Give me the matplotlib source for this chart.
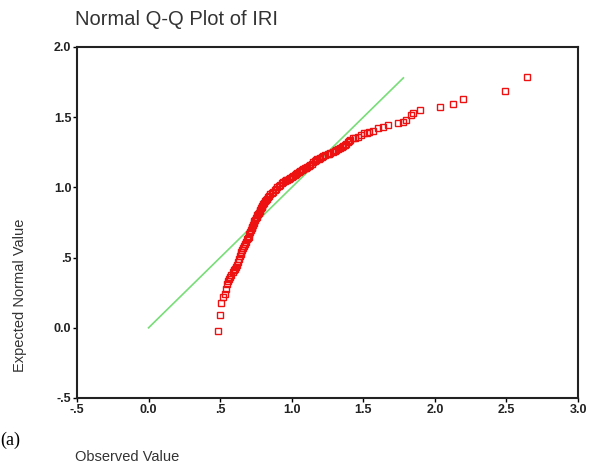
import numpy as np
import matplotlib
matplotlib.use("Agg")
import matplotlib.pyplot as plt
from matplotlib.ticker import FixedLocator, FixedFormatter

plt.rcParams["font.family"] = ["Liberation Sans", "DejaVu Sans"]

# observed IRI quantiles vs expected normal values
observed = [0.487, 0.498, 0.508, 0.519, 0.531, 0.538, 0.545, 0.553, 0.561, 0.570,
            0.578, 0.589, 0.596, 0.603, 0.612, 0.620, 0.627, 0.631, 0.637, 0.643,
            0.649, 0.655, 0.660, 0.666, 0.675, 0.683,
            0.69, 0.695, 0.70, 0.705, 0.71, 0.715, 0.72, 0.725, 0.73, 0.735,
            0.74, 0.745, 0.75, 0.755, 0.76, 0.765, 0.77, 0.775, 0.78, 0.785,
            0.79, 0.795, 0.80, 0.805, 0.81, 0.82, 0.83, 0.835, 0.84, 0.85,
            0.86, 0.87, 0.88, 0.89, 0.90, 0.91, 0.92, 0.93, 0.94, 0.95,
            0.96, 0.97, 0.98, 0.99, 1.00, 1.01, 1.02, 1.03, 1.04, 1.05,
            1.06, 1.07, 1.08, 1.09, 1.10, 1.11, 1.12, 1.13, 1.14, 1.15,
            1.16, 1.17, 1.18, 1.19, 1.20, 1.21, 1.22, 1.235, 1.25, 1.26,
            1.27, 1.285, 1.30, 1.31, 1.32, 1.335, 1.35, 1.36, 1.37, 1.38,
            1.39, 1.40, 1.41, 1.426, 1.445, 1.461, 1.485, 1.508, 1.525, 1.543,
            1.567, 1.602, 1.637, 1.672, 1.742, 1.777, 1.800, 1.835, 1.847, 1.893,
            2.034, 2.127, 2.197, 2.490, 2.642]
expected = [-0.024, 0.088, 0.176, 0.219, 0.243, 0.279, 0.315, 0.333, 0.350, 0.362,
            0.374, 0.397, 0.409, 0.421, 0.433, 0.445, 0.469, 0.493, 0.510, 0.528,
            0.543, 0.557, 0.568, 0.580, 0.596, 0.611,
            0.63, 0.64, 0.65, 0.665, 0.68, 0.695, 0.71, 0.72, 0.73, 0.745,
            0.76, 0.77, 0.78, 0.79, 0.80, 0.81, 0.82, 0.83, 0.84, 0.85,
            0.86, 0.87, 0.88, 0.89, 0.90, 0.91, 0.92, 0.93, 0.94, 0.95,
            0.96, 0.97, 0.98, 0.99, 1.00, 1.01, 1.02, 1.028, 1.035, 1.043,
            1.05, 1.055, 1.06, 1.068, 1.075, 1.083, 1.09, 1.095, 1.10, 1.108,
            1.115, 1.123, 1.13, 1.135, 1.14, 1.148, 1.155, 1.163, 1.17, 1.178,
            1.185, 1.193, 1.20, 1.205, 1.21, 1.215, 1.22, 1.228, 1.235, 1.24,
            1.245, 1.253, 1.26, 1.265, 1.27, 1.28, 1.29, 1.295, 1.30, 1.31,
            1.32, 1.328, 1.335, 1.349, 1.355, 1.360, 1.372, 1.384, 1.390, 1.396,
            1.403, 1.420, 1.432, 1.444, 1.456, 1.467, 1.479, 1.515, 1.527, 1.551,
            1.574, 1.594, 1.629, 1.686, 1.784]
ref_line = [0.0, 1.78]

xticks = [-0.5, 0.0, 0.5, 1.0, 1.5, 2.0, 2.5, 3.0]
xlabels = ["-.5", "0.0", ".5", "1.0", "1.5", "2.0", "2.5", "3.0"]
yticks = [-0.5, 0.0, 0.5, 1.0, 1.5, 2.0]
ylabels = ["-.5", "0.0", ".5", "1.0", "1.5", "2.0"]

fig = plt.figure(figsize=(5.99, 4.68), dpi=100)
ax = fig.add_axes([0.1285, 0.1496, 0.8365, 0.75])

ax.plot(ref_line, ref_line, color="#77dd77", lw=1.2, zorder=1)
ax.plot(observed, expected, ls="none", marker="s", ms=4.2, mfc="none",
        mec="#ee1111", mew=1.0, zorder=2)

ax.set_xlim(-0.5, 3.0)
ax.set_ylim(-0.5, 2.0)
ax.xaxis.set_major_locator(FixedLocator(xticks))
ax.xaxis.set_major_formatter(FixedFormatter(xlabels))
ax.yaxis.set_major_locator(FixedLocator(yticks))
ax.yaxis.set_major_formatter(FixedFormatter(ylabels))
ax.tick_params(direction="out", length=3, width=1, labelsize=9, pad=1)
for lab in ax.get_xticklabels() + ax.get_yticklabels():
    lab.set_fontweight("bold")
    lab.set_color("#222222")
for s in ax.spines.values():
    s.set_linewidth(1.5)
    s.set_color("#222222")

fig.text(0.125, 0.958, "Normal Q-Q Plot of IRI", fontsize=14.5, color="#333333",
         ha="left", va="center")
fig.text(0.034, 0.37, "Expected Normal Value", rotation=90, fontsize=10.5,
         color="#333333", ha="center", va="center")
fig.text(0.125, 0.023, "Observed Value", fontsize=10.5, color="#333333",
         ha="left", va="center")
fig.text(0.0, 0.06, "(a)", fontsize=13, family="Liberation Serif",
         ha="left", va="center")

fig.savefig("out.png", dpi=100)
